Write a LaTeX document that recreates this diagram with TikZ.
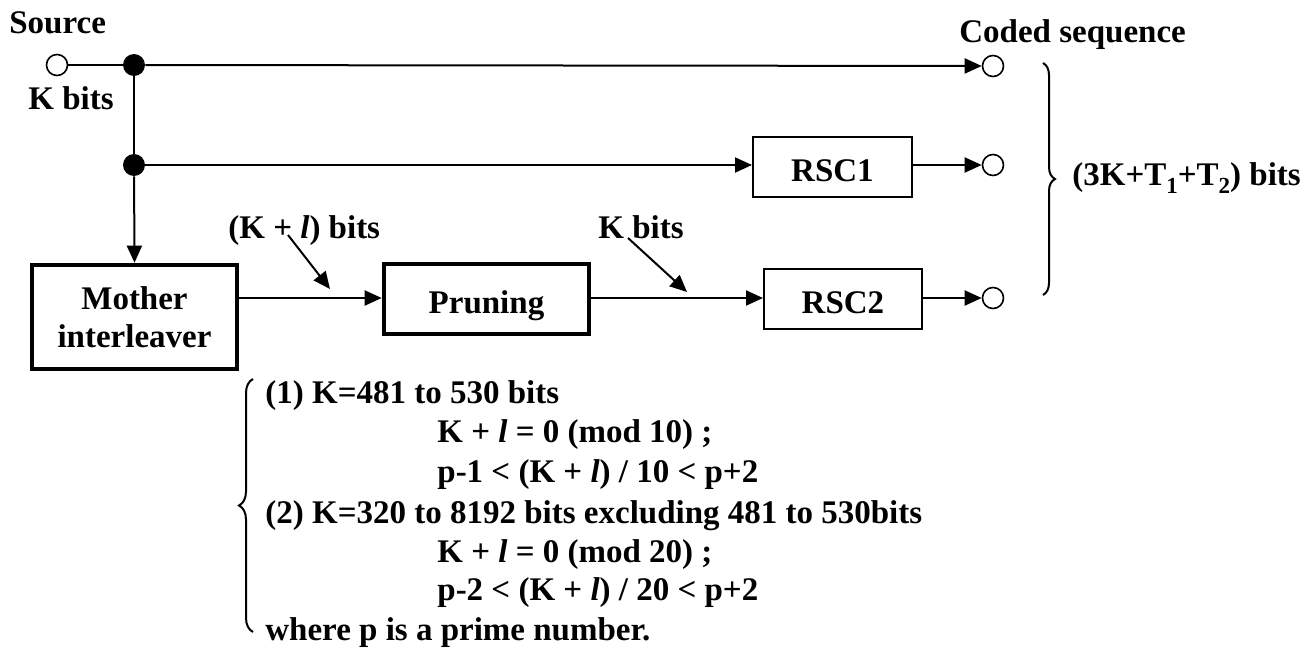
\documentclass[tikz,border=0pt]{standalone}
\usepackage{fontspec}
\setmainfont{Liberation Serif}
\usetikzlibrary{arrows.meta,decorations.pathreplacing}
\begin{document}
\begin{tikzpicture}[x=0.5pt,y=-0.5pt,
  every node/.style={font=\fontsize{16.5}{19.8}\selectfont\bfseries},
  ln/.style={line width=1pt},
  arr/.style={ln,-{Triangle[length=8.5pt,width=7.5pt]}},
  port/.style={circle,draw,line width=0.8pt,fill=white,minimum size=10.5pt,inner sep=0pt},
  junc/.style={circle,fill=black,minimum size=11pt,inner sep=0pt},
  thickbox/.style={draw,line width=2.3pt,align=center,inner sep=0pt},
  thinbox/.style={draw,line width=1pt,align=center,inner sep=0pt},
  onebox/.style={text height=14pt,text depth=0pt},
  lbl/.style={anchor=base west,inner sep=0pt}]
\useasboundingbox (0,0) rectangle (1314,648);

% nodes
\node[port] (src) at (57,65) {};
\node[junc] (j1) at (134,65) {};
\node[junc] (j2) at (134,165) {};
\node[port] (o1) at (993,66) {};
\node[port] (o2) at (993,165) {};
\node[port] (o3) at (993,298) {};
\node[thickbox,minimum width=102.5pt,minimum height=52pt] (mother) at (134.5,317) {Mother\\[-1pt]interleaver};
\node[thickbox,onebox,minimum width=102.5pt,minimum height=35pt] (prun) at (486.5,299) {Pruning};
\node[thinbox,onebox,minimum width=79.5pt,minimum height=30pt] (rsc1) at (832.5,167) {RSC1};
\node[thinbox,onebox,minimum width=79pt,minimum height=30pt] (rsc2) at (843,299) {RSC2};

% labels
\node[lbl] (lsrc) at (9,33) {Source};
\node[lbl] (lk) at (28,109) {K bits};
\node[lbl] (lcoded) at (959,42) {Coded sequence};
\node[lbl] (lkl) at (228,238) {(K + \textit{l}) bits};
\node[lbl] (lk2) at (598,238) {K bits};
\node[lbl] (ltot) at (1072,185) {(3K+T\raisebox{-4pt}{\fontsize{11.5}{12}\selectfont 1}+T\raisebox{-4pt}{\fontsize{11.5}{12}\selectfont 2}) bits};

% connectors
\draw[ln] (src) -- (j1);
\draw[arr] (j1) -- (o1);
\draw[ln] (j1) -- (j2);
\draw[arr] (j2) -- (mother.north);
\draw[arr] (j2) -- (rsc1.west |- j2);
\draw[arr] (rsc1.east |- o2) -- (o2);
\draw[arr] (mother.east |- o3) -- (prun.west |- o3);
\draw[arr] (prun.east |- o3) -- (rsc2.west |- o3);
\draw[arr] (rsc2.east |- o3) -- (o3);

% pointer arrows
\coordinate (p1s) at (288,235);
\coordinate (p1e) at (330,289);
\coordinate (p2s) at (628,238);
\coordinate (p2e) at (687,292);
\draw[arr] (p1s) -- (p1e);
\draw[arr] (p2s) -- (p2e);

% right brace
\coordinate (rb1) at (1043,63);
\coordinate (rb2) at (1043,295);
\draw[ln,decorate,decoration={brace,amplitude=6pt}] (rb1) -- (rb2);

% left brace
\coordinate (lb1) at (253,632);
\coordinate (lb2) at (253,379);
\draw[ln,decorate,decoration={brace,amplitude=7pt}] (lb1) -- (lb2);

% conditions
\node[lbl] (c1) at (265,403) {(1) K=481 to 530 bits};
\node[lbl] (c2) at (437,442) {K + \textit{l} = 0 (mod 10) ;};
\node[lbl] (c3) at (437,482) {p-1 {<} (K + \textit{l}) / 10 {<} p+2};
\node[lbl] (c4) at (265,523) {(2) K=320 to 8192 bits excluding 481 to 530bits};
\node[lbl] (c5) at (437,562) {K + \textit{l} = 0 (mod 20) ;};
\node[lbl] (c6) at (437,600) {p-2 {<} (K + \textit{l}) / 20 {<} p+2};
\node[lbl] (c7) at (265,640) {where p is a prime number.};
\end{tikzpicture}
\end{document}
